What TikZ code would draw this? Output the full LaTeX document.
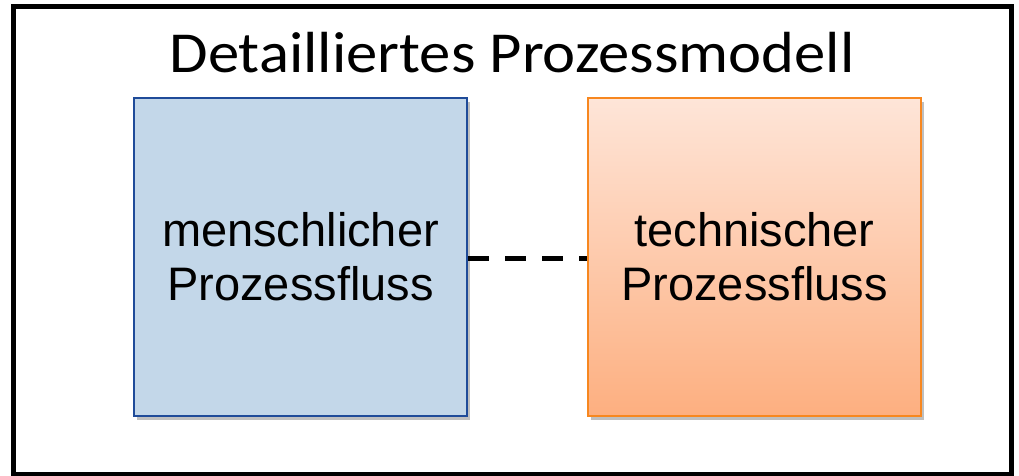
\documentclass[tikz,border=0pt]{standalone}
\usepackage{fontspec}
\setmainfont{Liberation Sans}
\newfontfamily\titlefont{Carlito}
\usetikzlibrary{shadows}
\definecolor{frameblack}{HTML}{000000}
\definecolor{bluefill}{HTML}{C3D7E9}
\definecolor{blueline}{HTML}{1F4B99}
\definecolor{orangetop}{HTML}{FEE5D8}
\definecolor{orangebot}{HTML}{FDAF80}
\definecolor{orangeline}{HTML}{F7871F}
\tikzset{
  procbox/.style={rectangle, minimum width=333pt, minimum height=317pt, inner sep=0pt,
    line width=2pt, align=center, font=\fontsize{47}{54}\selectfont,
    drop shadow={shadow xshift=3pt, shadow yshift=-4pt, opacity=0.25, fill=black}},
  link/.style={line width=5pt, dash pattern=on 21pt off 16pt, black},
}
\begin{document}
\begin{tikzpicture}[x=1pt,y=-1pt]
\useasboundingbox (0,0) rectangle (1019,476);
\fill[white] (0,0) rectangle (1019,476);
\node[draw=frameblack, line width=5pt, minimum width=998pt, minimum height=467pt, inner sep=0pt] (frame) at (512.5,240.5) {};
\node[anchor=base, inner sep=0pt] (title) at (512,73) {\scalebox{1.08}[1]{\titlefont\fontsize{58}{58}\selectfont Detailliertes Prozessmodell}};
\node[procbox, draw=blueline, fill=bluefill] (human) at (300.5,257) {menschlicher\\Prozessfluss};
\node[procbox, draw=orangeline, top color=orangetop, bottom color=orangebot] (tech) at (754.5,257) {technischer\\Prozessfluss};
\draw[link] ([yshift=-1.5pt]human.east) -- ([yshift=-1.5pt]tech.west);
\end{tikzpicture}
\end{document}
